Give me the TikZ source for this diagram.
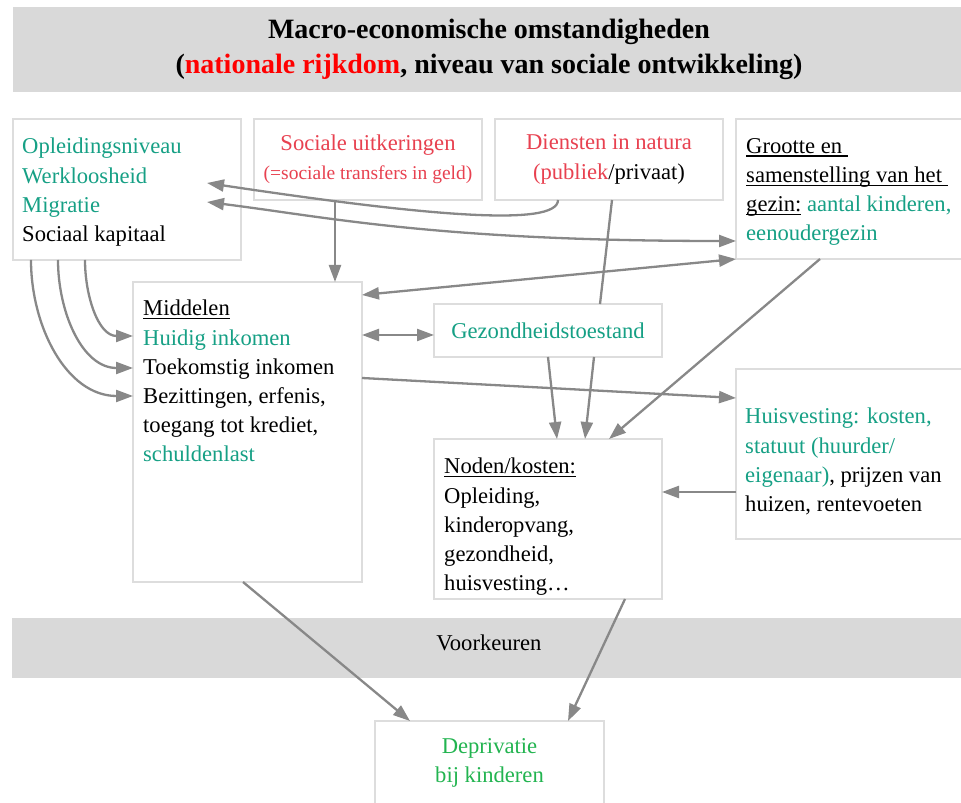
\documentclass[tikz,border=0pt]{standalone}
\usepackage{fontspec}
\setmainfont{Liberation Serif}
\usepackage{xcolor}
\usepackage{tikz}
\usetikzlibrary{arrows.meta,positioning,calc}

% underline at a fixed depth below the baseline
\newcommand{\onderlijn}[1]{\setbox0\hbox{#1}\rlap{\rule[-3.5pt]{\wd0}{1.2pt}}\box0\relax}

\definecolor{boxgray}{RGB}{221,221,221}
\definecolor{bandgray}{RGB}{217,217,217}
\definecolor{arrgray}{RGB}{136,136,136}
\definecolor{tealtxt}{RGB}{22,160,133}
\definecolor{rozetxt}{RGB}{232,65,80}
\definecolor{deprgroen}{RGB}{34,180,80}

\begin{document}
\begin{tikzpicture}[x=1pt,y=1pt,
    box/.style={draw=boxgray, line width=2.8pt, fill=white, inner sep=0pt, outer sep=0pt},
    band/.style={fill=bandgray, inner sep=0pt, outer sep=0pt},
    txt/.style={inner sep=0pt, align=left, font=\fontsize{22.6}{29.2}\selectfont},
    arr/.style={draw=arrgray, line width=2.3pt, -{Triangle[length=17pt,width=12pt]}},
    darr/.style={draw=arrgray, line width=2.3pt, {Triangle[length=17pt,width=12pt]}-{Triangle[length=17pt,width=12pt]}}]
    \clip (0,0) rectangle (961,803);
    \fill[white] (0,0) rectangle (961,803);

    % Top band: macro-economic circumstances
    \node[band, minimum width=952pt, minimum height=85pt, align=center,
          font=\fontsize{28}{35}\selectfont\bfseries] (macro) at (489,753.5)
        {Macro-economische omstandigheden\\(\textcolor{red}{nationale rijkdom}, niveau van sociale ontwikkeling)};

    % Top row of boxes
    \node[box, minimum width=228pt, minimum height=141pt] (opleiding) at (127,613.5) {};
    \node[txt, anchor=north west, text=tealtxt] (opleidingtxt) at (22,665)
        {Opleidingsniveau\\Werkloosheid\\Migratie\\\textcolor{black}{Sociaal kapitaal}};
    \node[box, txt, align=center, text=rozetxt, minimum width=228pt, minimum height=81pt] (uitkering) at (368,643.5)
        {Sociale uitkeringen\\{\fontsize{19.5}{28}\selectfont(=sociale transfers in geld)}};
    \node[box, txt, align=center, minimum width=228pt, minimum height=81pt] (diensten) at (609,643.5)
        {\textcolor{rozetxt}{Diensten in natura}\\\textcolor{rozetxt}{(publiek}/privaat)};
    \node[box, minimum width=239pt, minimum height=140pt] (gezin) at (855.5,614) {};
    \node[txt, anchor=north west] (gezintxt) at (746,665)
        {\onderlijn{Grootte en }\\\onderlijn{samenstelling van het }\\\onderlijn{gezin:} \textcolor{tealtxt}{aantal kinderen,}\\\textcolor{tealtxt}{eenoudergezin}};

    % Middle boxes
    \node[box, minimum width=229pt, minimum height=300pt] (middelen) at (247.5,371) {};
    \node[txt, anchor=north west] (middelentxt) at (143,503)
        {\onderlijn{Middelen}\\\textcolor{tealtxt}{Huidig inkomen}\\Toekomstig inkomen\\Bezittingen, erfenis,\\toegang tot krediet,\\\textcolor{tealtxt}{schuldenlast}};
    \node[box, txt, text=tealtxt, minimum width=228pt, minimum height=53pt] (gezondheid) at (548,472.5) {Gezondheidstoestand};
    \node[box, minimum width=228pt, minimum height=160pt] (noden) at (548,284) {};
    \node[txt, anchor=north west] (nodentxt) at (444,345)
        {\onderlijn{Noden/kosten:}\\Opleiding,\\kinderopvang,\\gezondheid,\\huisvesting…};
    \node[box, minimum width=239pt, minimum height=170pt] (huisvesting) at (855.5,349) {};
    \node[txt, anchor=north west] (huisvestingtxt) at (745,395)
        {\textcolor{tealtxt}{Huisvesting: kosten,}\\\textcolor{tealtxt}{statuut (huurder/}\\\textcolor{tealtxt}{eigenaar)}, prijzen van\\huizen, rentevoeten};

    % Preferences band and outcome
    \node[band, minimum width=954pt, minimum height=60pt] (voorkeuren) at (489,155) {};
    \node[txt] (voorkeurentxt) at (489,160.5) {Voorkeuren};
    \node[box, txt, align=center, text=deprgroen, font=\fontsize{22.6}{28.3}\selectfont,
          minimum width=229pt, minimum height=84pt] (deprivatie) at (489.5,40) {Deprivatie\\bij kinderen};

    % Connectors
    \draw[arr] ([xshift=-33pt]uitkering.south) -- ([xshift=87.5pt]middelen.north);
    \draw[arr] ([xshift=-51pt]diensten.south) .. controls +(0,-28) and +(213,-32) .. ([xshift=-34pt,yshift=6.5pt]opleiding.east);
    \draw[darr] ([xshift=-34pt,yshift=-12.5pt]opleiding.east) .. controls +(120,-15) and +(-300,0) .. ([yshift=-52pt]gezin.west);
    \draw[darr] ([yshift=137pt]middelen.east) -- (gezin.south west);
    \draw[darr] ([yshift=97pt]middelen.east) -- ([yshift=-4.5pt]gezondheid.west);
    \draw[arr] ([yshift=54pt]middelen.east) -- ([yshift=56pt]huisvesting.west);
    \draw[arr] (gezondheid.south) -- ([xshift=9pt]noden.north);
    \draw[draw=arrgray, line width=2.3pt] ([xshift=3pt]diensten.south) -- ([xshift=52pt]gezondheid.north);
    \draw[arr] ([xshift=46pt]gezondheid.south) -- ([xshift=37pt]noden.north);
    \draw[arr] ([xshift=-35.5pt]gezin.south) -- ([xshift=61pt]noden.north);
    \draw[arr] ([yshift=-38pt]huisvesting.west) -- ([yshift=27pt]noden.east);
    \draw[arr] ([xshift=-4.5pt]middelen.south) -- ([xshift=-79.5pt]deprivatie.north);
    \draw[arr] ([xshift=77pt]noden.south) -- ([xshift=78.5pt]deprivatie.north);
    \foreach \dx/\dy in {-96/36, -69/64, -42/96}
        \draw[arr] ([xshift=\dx pt]opleiding.south) to[out=-90, in=180] ([yshift=\dy pt]middelen.west);

\end{tikzpicture}
\end{document}
